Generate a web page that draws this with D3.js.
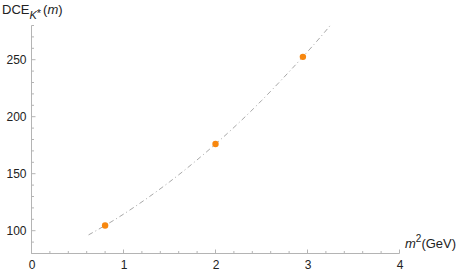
<!DOCTYPE html>
<html>
<head>
<meta charset="utf-8">
<script src="https://cdn.jsdelivr.net/npm/d3@7"></script>
<style>
  body { margin: 0; background: #fff; }
  text { font-family: "Liberation Sans", Arial, sans-serif; }
</style>
</head>
<body>
<svg id="chart"></svg>
<script>
// data points (m^2, DCE)
let pointX = [0.8, 2.0, 2.95]
let pointY = [104.6, 176, 252.5]

// dash-dot fit curve
let curveX = [0.62, 1.0, 1.5, 2.0, 2.5, 3.0, 3.25]
let curveY = [96.3, 114.5, 142.8, 176, 214.1, 257, 280.3]

let xTicks = [0, 1, 2, 3, 4]
let yTicks = [100, 150, 200, 250]

let width = 463
let height = 274

let svg = d3.select('#chart')
    .attr('width', width)
    .attr('height', height)

let xScale = d3.scaleLinear().domain([0, 4]).range([31.5, 399.5])
let yScale = d3.scaleLinear().domain([80, 280]).range([253.5, 25.5])

let axisColor = '#b4b4b4'

// x axis
let xAxis = d3.axisBottom(xScale).tickValues(xTicks).tickFormat(d3.format('d')).tickSize(0).tickPadding(7)
let gx = svg.append('g')
    .attr('transform', 'translate(0,' + yScale(80) + ')')
    .call(xAxis)
gx.select('.domain').attr('stroke', axisColor).attr('d', 'M' + xScale(0) + ',0H' + xScale(4))
gx.selectAll('text').attr('fill', '#222').style('font-size', '12px')

// x ticks (pointing inwards)
let xMinor = d3.range(0, 4.001, 0.2)
svg.append('g').selectAll('line')
    .data(xMinor)
    .join('line')
    .attr('x1', d => xScale(d)).attr('x2', d => xScale(d))
    .attr('y1', yScale(80))
    .attr('y2', d => yScale(80) - (Math.abs(d - Math.round(d)) < 1e-6 ? 4 : 2.5))
    .attr('stroke', axisColor)

// y axis
let yAxis = d3.axisLeft(yScale).tickValues(yTicks).tickFormat(d3.format('d')).tickSize(0).tickPadding(5)
let gy = svg.append('g')
    .attr('transform', 'translate(' + xScale(0) + ',0)')
    .call(yAxis)
gy.select('.domain').attr('stroke', axisColor).attr('d', 'M0,' + yScale(80) + 'V' + yScale(280))
gy.selectAll('text').attr('fill', '#222').style('font-size', '12px')

let yMinor = d3.range(80, 281, 10)
svg.append('g').selectAll('line')
    .data(yMinor)
    .join('line')
    .attr('y1', d => yScale(d)).attr('y2', d => yScale(d))
    .attr('x1', xScale(0))
    .attr('x2', d => xScale(0) + (d % 50 === 0 ? 4 : 2.5))
    .attr('stroke', axisColor)

// fit curve
let line = d3.line()
    .x(d => xScale(d[0]))
    .y(d => yScale(d[1]))
    .curve(d3.curveNatural)

svg.append('path')
    .datum(d3.zip(curveX, curveY))
    .attr('d', line)
    .attr('fill', 'none')
    .attr('stroke', '#a8a8a8')
    .attr('stroke-width', 1)
    .attr('stroke-dasharray', '5,3,1,3')

// points
svg.append('g').selectAll('circle')
    .data(d3.zip(pointX, pointY))
    .join('circle')
    .attr('cx', d => xScale(d[0]))
    .attr('cy', d => yScale(d[1]))
    .attr('r', 3.2)
    .attr('fill', '#f7870f')

// axis labels
let xl = svg.append('text')
    .attr('x', 405).attr('y', 248)
    .attr('fill', '#222')
    .style('font-size', '13px')
xl.append('tspan').text('m').style('font-style', 'italic')
xl.append('tspan').text('2').attr('dy', -6).style('font-size', '10px')
xl.append('tspan').text('(GeV)').attr('dy', 6)

let yl = svg.append('text')
    .attr('x', 2).attr('y', 14)
    .attr('fill', '#222')
    .style('font-size', '13px')
yl.append('tspan').text('DCE')
yl.append('tspan').text('K').attr('dy', 5).style('font-size', '11px').style('font-style', 'italic')
yl.append('tspan').text('*').attr('dy', -2).style('font-size', '11px')
yl.append('tspan').text('(').attr('dy', -3).attr('dx', 2)
yl.append('tspan').text('m').style('font-style', 'italic')
yl.append('tspan').text(')')
</script>
</body>
</html>
